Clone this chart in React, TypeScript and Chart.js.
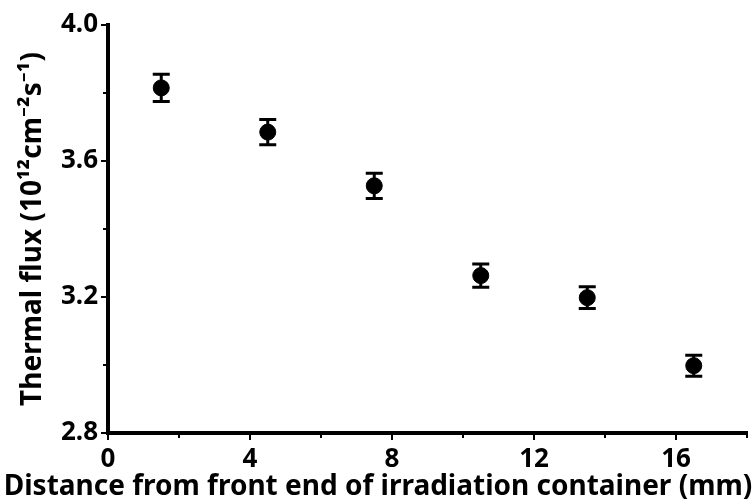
import React, { useEffect, useRef } from "react";
import { Chart, registerables } from "chart.js";

Chart.register(...registerables);

const distances = [1.5, 4.5, 7.5, 10.5, 13.5, 16.5];
const flux = [3.815, 3.685, 3.527, 3.263, 3.198, 2.998];
const fluxErr = [0.04, 0.037, 0.037, 0.034, 0.032, 0.031];
const xTickLabels = [0, 4, 8, 12, 16];
const yTickLabels = [2.8, 3.2, 3.6, 4.0];
const xTitle = "Distance from front end of irradiation container (mm)";
const yTitle = "Thermal flux (10\u00b9\u00b2cm\u207b\u00b2s\u207b\u00b9)";

const FONT = "'Noto Sans', 'Open Sans', sans-serif";

const errorBarPlugin = {
  id: "errorBars",
  afterDatasetsDraw(chart: any) {
    const ctx = chart.ctx;
    const xs = chart.scales.x;
    const ys = chart.scales.y;
    ctx.save();
    ctx.strokeStyle = "#000";
    ctx.lineWidth = 3;
    distances.forEach((d, i) => {
      const px = xs.getPixelForValue(d);
      const top = ys.getPixelForValue(flux[i] + fluxErr[i]);
      const bot = ys.getPixelForValue(flux[i] - fluxErr[i]);
      ctx.beginPath();
      ctx.moveTo(px, top);
      ctx.lineTo(px, bot);
      ctx.moveTo(px - 8.5, top);
      ctx.lineTo(px + 8.5, top);
      ctx.moveTo(px - 8.5, bot);
      ctx.lineTo(px + 8.5, bot);
      ctx.stroke();
    });
    // minor ticks
    ctx.lineWidth = 2;
    for (let v = 3.0; v < 4.0; v += 0.4) {
      const py = ys.getPixelForValue(v);
      ctx.beginPath();
      ctx.moveTo(xs.left - 5, py);
      ctx.lineTo(xs.left, py);
      ctx.stroke();
    }
    for (let v = 2; v <= 18; v += 4) {
      const px = xs.getPixelForValue(v);
      ctx.beginPath();
      ctx.moveTo(px, ys.bottom);
      ctx.lineTo(px, ys.bottom + 5);
      ctx.stroke();
    }
    // x axis title (drawn without width squeezing)
    ctx.fillStyle = "#000";
    ctx.font = `bold 28px ${FONT}`;
    ctx.textAlign = "center";
    ctx.textBaseline = "alphabetic";
    ctx.fillText(xTitle, chart.width / 2, 495);
    ctx.restore();
  },
};

export default function App() {
  const ref = useRef<HTMLCanvasElement>(null);
  useEffect(() => {
    if (!ref.current) return;
    const chart = new Chart(ref.current, {
      type: "scatter",
      data: {
        datasets: [
          {
            data: distances.map((d, i) => ({ x: d, y: flux[i] })),
            backgroundColor: "#000",
            borderColor: "#000",
            pointRadius: 8,
            pointHoverRadius: 8,
          },
        ],
      },
      options: {
        responsive: false,
        animation: false,
        events: [],
        layout: { padding: { top: 25, right: 4, left: 0, bottom: 0 } },
        plugins: { legend: { display: false }, tooltip: { enabled: false } },
        scales: {
          x: {
            type: "linear",
            min: 0,
            max: 18,
            afterFit: (s: any) => {
              s.height = 67;
            },
            afterBuildTicks: (s: any) => {
              s.ticks = xTickLabels.map((v) => ({ value: v }));
            },
            border: { display: true, color: "#000", width: 4 },
            grid: {
              drawOnChartArea: false,
              color: "#000",
              lineWidth: 2,
              tickLength: 7,
            },
            ticks: {
              color: "#000",
              padding: 4,
              font: { family: FONT, size: 26, weight: "bold" },
              callback: (v: any) => String(v),
            },
            title: { display: false },
          },
          y: {
            type: "linear",
            min: 2.8,
            max: 4.0,
            afterFit: (s: any) => {
              s.width = 108;
            },
            afterBuildTicks: (s: any) => {
              s.ticks = yTickLabels.map((v) => ({ value: v }));
            },
            border: { display: true, color: "#000", width: 4 },
            grid: {
              drawOnChartArea: false,
              color: "#000",
              lineWidth: 2,
              tickLength: 7,
            },
            ticks: {
              color: "#000",
              padding: 3,
              font: { family: FONT, size: 26, weight: "bold" },
              callback: (v: any) => Number(v).toFixed(1),
            },
            title: {
              display: true,
              text: yTitle,
              color: "#000",
              font: { family: FONT, size: 28, weight: "bold" },
              padding: { top: 16, bottom: 0 },
            },
          },
        },
      },
      plugins: [errorBarPlugin],
    });
    return () => chart.destroy();
  }, []);
  return (
    <div style={{ position: "fixed", left: 0, top: 0, width: 756, height: 500, background: "#fff" }}>
      <canvas ref={ref} width={756} height={500} />
    </div>
  );
}
